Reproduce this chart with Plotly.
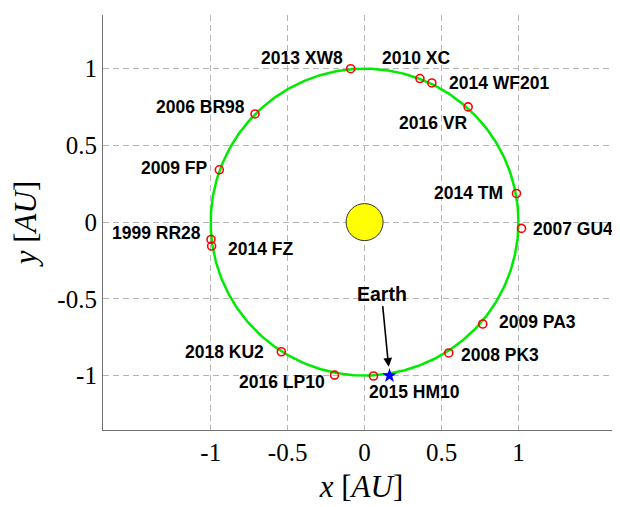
import numpy as np
import plotly.graph_objects as go

# ---------------- data ----------------
asteroid_names = ["2013 XW8", "2010 XC", "2014 WF201", "2016 VR", "2014 TM", "2007 GU4",
                  "2006 BR98", "2009 FP", "1999 RR28", "2014 FZ", "2018 KU2", "2016 LP10",
                  "2015 HM10", "2008 PK3", "2009 PA3"]
asteroid_x = [-0.09, 0.36, 0.437, 0.673, 0.987, 1.02,
              -0.712, -0.944, -0.998, -0.994, -0.541, -0.195,
              0.058, 0.547, 0.768]
asteroid_y = [1.00, 0.936, 0.907, 0.751, 0.187, -0.041,
              0.705, 0.341, -0.113, -0.156, -0.845, -0.997,
              -1.003, -0.853, -0.664]
earth_x = [0.162]
earth_y = [-1.001]
sun_x = [0.0]
sun_y = [0.0]
orbit_radius = 1.0
tick_vals = [-1, -0.5, 0, 0.5, 1]
tick_text = ["-1", "-0.5", "0", "0.5", "1"]

# ---------------- label styling (anchor, dx px, dy px) ----------------
label_style = {
    "2013 XW8": ("right", -6, 11),
    "2010 XC": ("center", -4, 21),
    "2014 WF201": ("left", 15, 0),
    "2016 VR": ("right", 1, -16),
    "2014 TM": ("right", -11, 0),
    "2007 GU4": ("left", 9, -1),
    "2006 BR98": ("right", -8, 7),
    "2009 FP": ("right", -10, 2),
    "1999 RR28": ("right", -8, 6),
    "2014 FZ": ("left", 14, -3),
    "2018 KU2": ("right", -15, 0),
    "2016 LP10": ("right", -8, -7),
    "2015 HM10": ("left", -7, -16),
    "2008 PK3": ("left", 10, -2),
    "2009 PA3": ("left", 14, 2),
}

theta = np.linspace(0, 2 * np.pi, 400)
orbit_x = orbit_radius * np.cos(theta)
orbit_y = orbit_radius * np.sin(theta)

fig = go.Figure()
fig.add_trace(go.Scatter(x=orbit_x, y=orbit_y, mode="lines",
                         line=dict(color="rgb(0,235,0)", width=2.5), hoverinfo="skip"))
fig.add_trace(go.Scatter(x=sun_x, y=sun_y, mode="markers",
                         marker=dict(size=37, color="#ffff00", line=dict(color="#333333", width=1))))
fig.add_trace(go.Scatter(x=asteroid_x, y=asteroid_y, mode="markers",
                         marker=dict(symbol="circle-open", size=8, color="red", line=dict(width=1.6))))
fig.add_trace(go.Scatter(x=earth_x, y=earth_y, mode="markers",
                         marker=dict(symbol="star", size=11, color="blue")))

label_font = dict(family="Liberation Sans", size=17.5, color="black")
annotations = []
for name, x, y in zip(asteroid_names, asteroid_x, asteroid_y):
    anchor, dx, dy = label_style[name]
    annotations.append(dict(x=x, y=y, text="<b>%s</b>" % name, showarrow=False,
                            xanchor=anchor, yanchor="middle", xshift=dx, yshift=dy,
                            font=label_font))
annotations.append(dict(x=earth_x[0], y=earth_y[0], text="<b>Earth</b>", showarrow=True,
                        ax=-8, ay=-82, arrowhead=2, arrowsize=1.1, arrowwidth=1.6,
                        arrowcolor="black", standoff=9,
                        font=dict(family="Liberation Sans", size=19.5, color="black")))

axis_common = dict(showgrid=True, gridcolor="#b5b5b5", griddash="6px,4px", gridwidth=1,
                   zeroline=False, showline=True, linecolor="#707070", linewidth=1.2,
                   ticks="", tickvals=tick_vals, ticktext=tick_text,
                   tickfont=dict(family="Liberation Serif", size=25, color="black"))

# page body has an 8px default margin, so the figure is 8px smaller than the window
fig.update_layout(
    width=612, height=499,
    margin=dict(l=95, r=0, t=7, b=77, autoexpand=False),
    plot_bgcolor="white", paper_bgcolor="white",
    showlegend=False,
    annotations=annotations,
    xaxis=dict(range=[-1.70, 1.66], **axis_common,
               title=dict(text="<i>x</i> [<i>AU</i>]", standoff=10,
                          font=dict(family="Liberation Serif", size=31, color="black"))),
    yaxis=dict(range=[-1.355, 1.35], **axis_common,
               title=dict(text="<i>y</i> [<i>AU</i>]", standoff=14,
                          font=dict(family="Liberation Serif", size=31, color="black"))),
)

fig.write_html("out.html")
